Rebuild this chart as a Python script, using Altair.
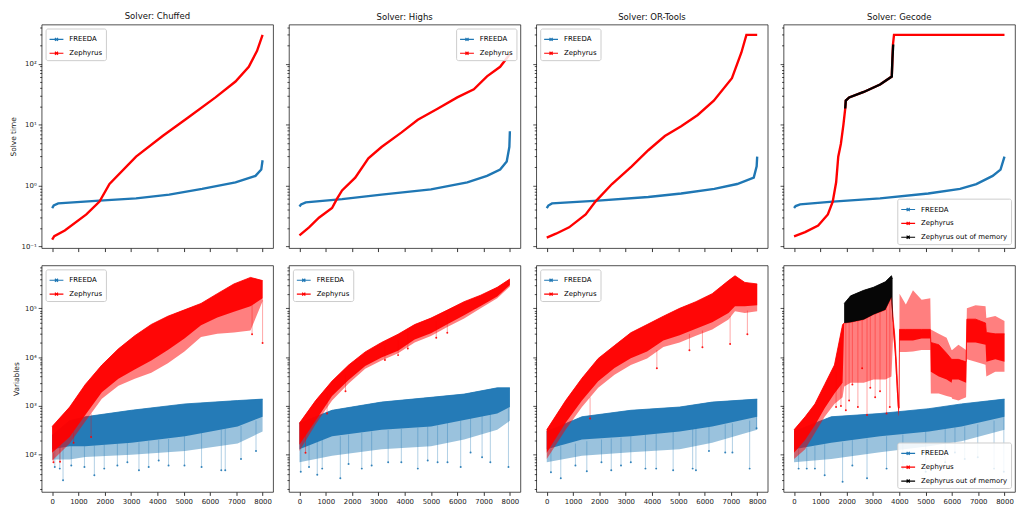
import altair as alt
import pandas as pd

# ---------------- general ----------------
SOLVERS = ["Chuffed", "Highs", "OR-Tools", "Gecode"]
SERIES = ["FREEDA", "Zephyrus", "Zephyrus out of memory"]
COLORS = ["#1f77b4", "#ff0000", "#000000"]
X_TICKS = [0, 1000, 2000, 3000, 4000, 5000, 6000, 7000, 8000]
X_DOMAIN = [-400, 8400]
TOP_DOMAIN = [0.094, 440]
BOT_DOMAIN = [17.3, 757000]

# ---------------- top row: solve time (sorted) ----------------
chuffed_freeda_i = [0, 60, 230, 1800, 3190, 4450, 5700, 6970, 7730, 7950, 8000]
chuffed_freeda_t = [0.427, 0.47, 0.51, 0.565, 0.615, 0.71, 0.88, 1.13, 1.44, 1.83, 2.6]
chuffed_zeph_i = [0, 80, 480, 1300, 1800, 2180, 3190, 4200, 5210, 6210, 6970, 7475, 7790, 8000]
chuffed_zeph_t = [0.13, 0.148, 0.183, 0.336, 0.545, 1.06, 2.98, 6.5, 13.5, 28, 51, 89, 163, 298]

highs_freeda_i = [0, 60, 240, 1620, 3120, 5000, 6380, 7130, 7630, 7880, 7980, 8000]
highs_freeda_t = [0.454, 0.49, 0.53, 0.60, 0.71, 0.865, 1.13, 1.44, 1.83, 2.48, 4.3, 7.8]
highs_zeph_i = [0, 364, 740, 1240, 1430, 1620, 2120, 2620, 3120, 3870, 4500, 5250, 6000, 6630, 7130, 7630, 8000]
highs_zeph_t = [0.152, 0.206, 0.297, 0.427, 0.61, 0.83, 1.35, 2.8, 4.3, 7.4, 12, 18.3, 28, 38, 62, 89, 144]

ortools_freeda_i = [0, 60, 200, 1950, 3860, 5110, 6370, 7240, 7870, 7980, 8000]
ortools_freeda_t = [0.427, 0.47, 0.51, 0.565, 0.65, 0.74, 0.88, 1.06, 1.35, 2.07, 2.98]
ortools_zeph_i = [0, 350, 850, 1480, 1850, 2480, 3230, 3860, 4490, 5110, 5740, 6350, 7040, 7400, 7590, 8000]
ortools_zeph_t = [0.14, 0.162, 0.206, 0.336, 0.545, 1.06, 2.07, 3.8, 6.5, 9.4, 14.4, 24.8, 58, 153, 298, 298]

gecode_freeda_i = [0, 60, 230, 1470, 3270, 5100, 6310, 6930, 7550, 7850, 8000]
gecode_freeda_t = [0.427, 0.46, 0.49, 0.545, 0.615, 0.74, 0.88, 1.06, 1.44, 1.83, 2.98]
gecode_zeph_i = [0, 420, 917, 1285, 1470, 1600, 1680, 1780, 1877, 1945, 1966, 2095, 2650, 3270, 3715, 3760, 3800, 8000]
gecode_zeph_t = [0.147, 0.172, 0.22, 0.336, 0.545, 1.13, 2.98, 4.83, 10, 18.4, 24.8, 28, 34.4, 45.7, 61.7, 207, 298, 298]
gecode_oom_i = [1945, 1966, 2095, 2650, 3270, 3715, 3740, 3770]
gecode_oom_t = [18.4, 24.8, 28, 34.4, 45.7, 61.7, 120, 207]

# ---------------- bottom row: variables (bands) ----------------
# lo = sparse lower edge, clo/chi = dense core, hi = upper edge
chuffed_fb_i = [0, 660, 1260, 3010, 5050, 7050, 8000]
chuffed_fb_hi = [250, 500, 600, 815, 1100, 1290, 1380]
chuffed_fb_clo = [130, 150, 150, 177, 240, 380, 600]
chuffed_fb_lo = [80, 80, 90, 100, 120, 170, 300]
chuffed_zb_i = [0, 665, 1260, 1890, 2520, 3140, 3770, 4400, 5030, 5660, 6280, 6910, 7540, 8000]
chuffed_zb_hi = [380, 950, 2760, 6900, 14800, 27500, 46800, 69000, 93000, 126000, 200000, 316000, 430000, 370000]
chuffed_zb_clo = [110, 230, 650, 1900, 3600, 5600, 8500, 14000, 24000, 45000, 65000, 85000, 110000, 160000]
chuffed_zb_lo = [75, 170, 480, 1400, 2600, 3600, 4800, 7500, 13000, 26000, 30000, 32000, 35000, 140000]
chuffed_fs_i = [100, 290, 414, 727, 1228, 1604, 1980, 2480, 2860, 3300, 3670, 4050, 4425, 5030, 5680, 6430, 6580, 7180, 7750]
chuffed_fs_low = [56, 52, 30, 60, 56, 38, 52, 60, 70, 48, 56, 76, 60, 60, 56, 48, 48, 82, 120]
chuffed_fs_top = [130, 140, 150, 150, 150, 155, 160, 170, 175, 180, 190, 200, 210, 240, 280, 330, 340, 390, 500]
chuffed_zs_i = [50, 300, 815, 1480, 7600, 8000]
chuffed_zs_low = [70, 72, 177, 230, 29500, 19500]
chuffed_zs_top = [110, 200, 300, 700, 120000, 150000]

highs_fb_i = [0, 1240, 3120, 5000, 6260, 7520, 8000]
highs_fb_hi = [445, 815, 1200, 1500, 1750, 2350, 2350]
highs_fb_clo = [130, 240, 325, 380, 515, 700, 950]
highs_fb_lo = [70, 95, 130, 150, 205, 325, 500]
highs_zb_i = [0, 615, 1240, 1870, 2500, 3120, 3750, 4380, 5000, 5640, 6260, 6890, 7520, 8000]
highs_zb_hi = [445, 1290, 3240, 6900, 12800, 20000, 29500, 46500, 63000, 93000, 137000, 186000, 270000, 400000]
highs_zb_clo = [160, 500, 1600, 3400, 6600, 9800, 13500, 23000, 31000, 48000, 72000, 112000, 175000, 300000]
highs_zb_lo = [120, 420, 1300, 2900, 5800, 8500, 12000, 20000, 27000, 42000, 62000, 100000, 160000, 280000]
highs_fs_i = [50, 364, 677, 865, 1554, 1867, 2370, 2745, 3372, 3873, 4500, 4876, 5252, 5628, 6130, 6505, 6943, 7257, 7946]
highs_fs_low = [45, 56, 39, 52, 33, 65, 52, 60, 70, 70, 52, 76, 70, 70, 56, 111, 89, 70, 56]
highs_fs_top = [130, 180, 200, 210, 240, 260, 280, 300, 320, 340, 360, 380, 400, 450, 500, 560, 640, 700, 900]
highs_zs_i = [230, 1050, 1750, 3250, 3750, 4120, 5200, 5620]
highs_zs_low = [110, 700, 2000, 8700, 11000, 15000, 25000, 31600]
highs_zs_top = [300, 1800, 4500, 17000, 22000, 35000, 55000, 75000]

ortools_fb_i = [0, 1338, 3195, 5053, 6291, 8000]
ortools_fb_hi = [300, 600, 815, 950, 1200, 1380]
ortools_fb_clo = [130, 205, 240, 300, 380, 600]
ortools_fb_lo = [70, 95, 112, 130, 177, 325]
ortools_zb_i = [0, 718, 1338, 1956, 2576, 3195, 3814, 4433, 5053, 5671, 6291, 6910, 7157, 7529, 8000]
ortools_zb_hi = [325, 1290, 3700, 9400, 17300, 31600, 46500, 69000, 100000, 137000, 200000, 370000, 465000, 340000, 316000]
ortools_zb_clo = [110, 450, 1300, 3200, 6000, 9500, 13000, 22000, 28000, 38000, 52000, 80000, 110000, 110000, 115000]
ortools_zb_lo = [82, 325, 950, 2350, 4370, 6900, 9400, 16200, 20000, 27500, 37000, 59000, 87000, 80000, 87000]
ortools_fs_i = [159, 533, 1090, 1523, 2080, 2452, 2823, 3195, 3752, 4160, 4805, 5547, 5671, 6167, 6785, 7058, 7714, 7975]
ortools_fs_low = [44, 33, 60, 46, 70, 48, 60, 70, 52, 52, 48, 52, 48, 120, 111, 111, 52, 350]
ortools_fs_top = [130, 150, 170, 190, 205, 215, 225, 240, 260, 270, 300, 350, 360, 380, 420, 440, 500, 600]
ortools_zs_i = [1647, 4186, 5424, 5918, 6971, 7627]
ortools_zs_low = [555, 5900, 13800, 16000, 18600, 29500]
ortools_zs_top = [1500, 14000, 30000, 35000, 70000, 90000]

gecode_fb_i = [0, 1412, 3269, 5127, 6364, 8000]
gecode_fb_hi = [300, 600, 700, 880, 1100, 1380]
gecode_fb_clo = [130, 177, 240, 300, 380, 600]
gecode_fb_lo = [70, 82, 112, 150, 190, 325]
gecode_fs_i = [173, 483, 793, 1164, 1845, 2216, 2774, 3517, 4136, 5004, 5746, 6117, 6489, 6984, 7603, 7975]
gecode_fs_low = [52, 52, 52, 38, 28, 60, 33, 52, 52, 45, 70, 111, 82, 89, 52, 45]
gecode_fs_top = [130, 140, 150, 165, 180, 200, 215, 240, 260, 300, 340, 360, 380, 420, 500, 600]
gecode_zb_i = [0, 421, 793, 1164, 1535, 1845, 1907, 2150, 2650, 3020, 3470, 3703, 3770, 3830, 3890, 3940, 3990,
               4010, 4250, 4520, 4850, 5180, 5200, 5500, 5800, 5990, 6010, 6250, 6540, 6570, 6900, 7280, 7310, 7650, 8000]
gecode_zb_hi = [325, 600, 1100, 2760, 6900, 46500, 50000, 52000, 59000, 75000, 93000, 170000, 60000, 27500, 8000, 2500, 900,
                200000, 120000, 234000, 150000, 160000, 37000, 30000, 25000, 14000, 14000, 18000, 14000, 100000, 115000, 110000,
                63000, 70000, 55000]
gecode_zb_chi = [325, 600, 1100, 2760, 6900, 46500, 50000, 52000, 59000, 75000, 93000, 170000, 60000, 27500, 8000, 2500, 900,
                 37000, 37000, 37000, 37000, 37000, 20000, 18000, 12000, 9000, 9000, 9000, 8000, 60000, 60000, 50000,
                 32000, 30000, 30000]
gecode_zb_clo = [110, 200, 400, 900, 1800, 3000, 50000, 52000, 59000, 75000, 93000, 170000, 30000, 12000, 3000, 1000, 600,
                 22000, 22000, 22000, 24000, 24000, 5000, 4000, 3500, 3000, 3500, 3500, 3000, 20000, 20000, 18000,
                 8000, 9000, 8000]
gecode_zb_lo = [82, 130, 280, 600, 1100, 1500, 2500, 3000, 3000, 3500, 3500, 4000, 30000, 12000, 3000, 1000, 600,
                12800, 12800, 13000, 14000, 14000, 1800, 1800, 1600, 1500, 1400, 1300, 1500, 9000, 8000, 7000,
                4000, 5000, 5000]
gecode_zs_i = [1597, 1783, 1969, 2093, 2217, 2427, 2588, 2774, 2898, 3083, 3269, 3517, 3641]
gecode_zs_low = [950, 1000, 815, 1290, 2760, 950, 5900, 650, 2350, 1500, 2000, 700, 950]
gecode_zs_top = [5000, 20000, 50000, 51000, 53000, 56000, 58000, 63000, 70000, 78000, 93000, 100000, 150000]
gecode_ob_i = [1907, 2150, 2650, 3020, 3470, 3703, 3740]
gecode_ob_hi = [126000, 180000, 234000, 270000, 350000, 465000, 400000]
gecode_ob_lo = [50000, 52000, 59000, 75000, 93000, 170000, 50000]

# ---------------- styling helpers ----------------
W, H1, H2 = 234, 226, 229
FONT = "DejaVu Sans"
MAJOR = "abs(log(datum.value)/LN10 - round(log(datum.value)/LN10)) < 0.01"
LABEL_EXPR = (MAJOR + " ? '10' + (round(log(datum.value)/LN10) < 0 ? '\u207b' : '') + "
              "['\u2070','\u00b9','\u00b2','\u00b3','\u2074','\u2075','\u2076','\u2077','\u2078','\u2079']"
              "[abs(round(log(datum.value)/LN10))] : ''")
SYMBOL = "M-1,0L1,0M-0.22,-0.22L0.22,0.22M-0.22,0.22L0.22,-0.22"
OUTER_OPACITY = {"FREEDA": 0.45, "Zephyrus": 0.5, "Zephyrus out of memory": 0.5}


def log_ticks(vmin, vmax):
    out = []
    for e in range(-2, 7):
        for m in range(1, 10):
            v = m * 10.0 ** e
            if vmin <= v <= vmax:
                out.append(float(f"{v:.6g}"))
    return out


def x_enc(labels):
    return alt.X("idx:Q", scale=alt.Scale(domain=X_DOMAIN, nice=False, zero=False),
                 axis=alt.Axis(values=X_TICKS, labels=labels, title=None, labelFlush=False,
                               format="d", tickSize=3.5, tickWidth=0.8))


def y_axis(domain, first, title):
    kw = dict(values=log_ticks(domain[0], domain[1]), labelOverlap=False,
              tickSize={"condition": {"test": MAJOR, "value": 3.5}, "value": 2},
              tickWidth=0.7)
    if first:
        kw.update(labelExpr=LABEL_EXPR, title=title, titlePadding=4)
    else:
        kw.update(labels=False, title=None)
    return alt.Axis(**kw)


def y_scale(domain):
    return alt.Scale(type="log", domain=domain, nice=False)


def color_enc(names, orient):
    cols = [COLORS[SERIES.index(n)] for n in names]
    return alt.Color("series:N", scale=alt.Scale(domain=names, range=cols),
                     legend=alt.Legend(title=None, orient=orient, offset=4, symbolType=SYMBOL,
                                       symbolSize=196, symbolStrokeWidth=1.2, labelFontSize=7,
                                       labelFont=FONT, fillColor="rgba(255,255,255,0.85)",
                                       strokeColor="#cccccc", padding=3, cornerRadius=2,
                                       rowPadding=2, labelOffset=5))


def top_panel(solver, series, orient, first):
    names = [s[0] for s in series]
    yax = y_axis(TOP_DOMAIN, first, "Solve time")
    layers = []
    for name, i, t in series:
        df = pd.DataFrame({"idx": i, "t": t, "series": name})
        layers.append(
            alt.Chart(df).mark_line(strokeWidth=2.4, clip=True).encode(
                x=x_enc(False),
                y=alt.Y("t:Q", scale=y_scale(TOP_DOMAIN), axis=yax),
                color=color_enc(names, orient)))
    return alt.layer(*layers).properties(width=W, height=H1, title=f"Solver: {solver}")


def bottom_panel(series, orient, first):
    names = [s[0] for s in series]
    yax = y_axis(BOT_DOMAIN, first, "Variables")
    ys = y_scale(BOT_DOMAIN)
    layers = []
    for name, band, spikes in series:
        col = COLORS[SERIES.index(name)]
        i, lo, clo, chi, hi = band
        bdf = pd.DataFrame({"idx": i, "lo": lo, "clo": clo, "chi": chi, "hi": hi, "series": name})
        layers.append(alt.Chart(bdf).mark_area(color=col, opacity=OUTER_OPACITY[name], clip=True).encode(
            x=x_enc(True), y=alt.Y("lo:Q", scale=ys, axis=yax), y2="hi:Q"))
        layers.append(alt.Chart(bdf).mark_area(color=col, opacity=0.95, clip=True).encode(
            x=x_enc(True), y=alt.Y("clo:Q", scale=ys, axis=yax), y2="chi:Q"))
        if spikes is not None:
            si, slow, stop = spikes
            sdf = pd.DataFrame({"idx": si, "low": slow, "top": stop})
            layers.append(alt.Chart(sdf).mark_rule(color=col, opacity=0.5, strokeWidth=0.7, clip=True).encode(
                x=x_enc(True), y=alt.Y("low:Q", scale=ys, axis=yax), y2="top:Q"))
            layers.append(alt.Chart(sdf).mark_circle(color=col, opacity=0.9, size=4, clip=True).encode(
                x=x_enc(True), y=alt.Y("low:Q", scale=ys, axis=yax)))
        layers.append(alt.Chart(bdf).mark_line(strokeWidth=0.8, clip=True).encode(
            x=x_enc(True), y=alt.Y("chi:Q", scale=ys, axis=yax), color=color_enc(names, orient)))
    return alt.layer(*layers).properties(width=W, height=H2)


top_row = alt.hconcat(
    top_panel("Chuffed", [("FREEDA", chuffed_freeda_i, chuffed_freeda_t),
                          ("Zephyrus", chuffed_zeph_i, chuffed_zeph_t)], "top-left", True),
    top_panel("Highs", [("FREEDA", highs_freeda_i, highs_freeda_t),
                        ("Zephyrus", highs_zeph_i, highs_zeph_t)], "top-right", False),
    top_panel("OR-Tools", [("FREEDA", ortools_freeda_i, ortools_freeda_t),
                           ("Zephyrus", ortools_zeph_i, ortools_zeph_t)], "top-left", False),
    top_panel("Gecode", [("FREEDA", gecode_freeda_i, gecode_freeda_t),
                         ("Zephyrus", gecode_zeph_i, gecode_zeph_t),
                         ("Zephyrus out of memory", gecode_oom_i, gecode_oom_t)], "bottom-right", False),
    spacing=10,
).resolve_scale(color="independent").resolve_legend(color="independent")

bottom_row = alt.hconcat(
    bottom_panel([
        ("FREEDA", (chuffed_fb_i, chuffed_fb_lo, chuffed_fb_clo, chuffed_fb_hi, chuffed_fb_hi),
         (chuffed_fs_i, chuffed_fs_low, chuffed_fs_top)),
        ("Zephyrus", (chuffed_zb_i, chuffed_zb_lo, chuffed_zb_clo, chuffed_zb_hi, chuffed_zb_hi),
         (chuffed_zs_i, chuffed_zs_low, chuffed_zs_top)),
    ], "top-left", True),
    bottom_panel([
        ("FREEDA", (highs_fb_i, highs_fb_lo, highs_fb_clo, highs_fb_hi, highs_fb_hi),
         (highs_fs_i, highs_fs_low, highs_fs_top)),
        ("Zephyrus", (highs_zb_i, highs_zb_lo, highs_zb_clo, highs_zb_hi, highs_zb_hi),
         (highs_zs_i, highs_zs_low, highs_zs_top)),
    ], "top-left", False),
    bottom_panel([
        ("FREEDA", (ortools_fb_i, ortools_fb_lo, ortools_fb_clo, ortools_fb_hi, ortools_fb_hi),
         (ortools_fs_i, ortools_fs_low, ortools_fs_top)),
        ("Zephyrus", (ortools_zb_i, ortools_zb_lo, ortools_zb_clo, ortools_zb_hi, ortools_zb_hi),
         (ortools_zs_i, ortools_zs_low, ortools_zs_top)),
    ], "top-left", False),
    bottom_panel([
        ("FREEDA", (gecode_fb_i, gecode_fb_lo, gecode_fb_clo, gecode_fb_hi, gecode_fb_hi),
         (gecode_fs_i, gecode_fs_low, gecode_fs_top)),
        ("Zephyrus", (gecode_zb_i, gecode_zb_lo, gecode_zb_clo, gecode_zb_chi, gecode_zb_hi),
         (gecode_zs_i, gecode_zs_low, gecode_zs_top)),
        ("Zephyrus out of memory", (gecode_ob_i, gecode_ob_lo, gecode_ob_lo, gecode_ob_hi, gecode_ob_hi), None),
    ], "bottom-right", False),
    spacing=10,
).resolve_scale(color="independent").resolve_legend(color="independent")

chart = alt.vconcat(top_row, bottom_row, spacing=9.5).resolve_scale(
    color="independent").resolve_legend(color="independent").properties(
    padding={"left": 0, "top": 0, "right": 0, "bottom": 0}
).configure(font=FONT).configure_view(
    stroke="#222222", strokeWidth=0.8
).configure_axis(
    domain=False, grid=False, tickColor="#000000", labelColor="#222222", labelFontSize=7,
    titleFontSize=7.5, titleFontWeight="normal", titleColor="#222222", labelPadding=2,
    labelFont=FONT, titleFont=FONT
).configure_title(
    fontSize=8.6, fontWeight="normal", font=FONT, offset=3, color="#111111"
)

chart.save("out.html", embed_options={"renderer": "svg", "actions": False})
